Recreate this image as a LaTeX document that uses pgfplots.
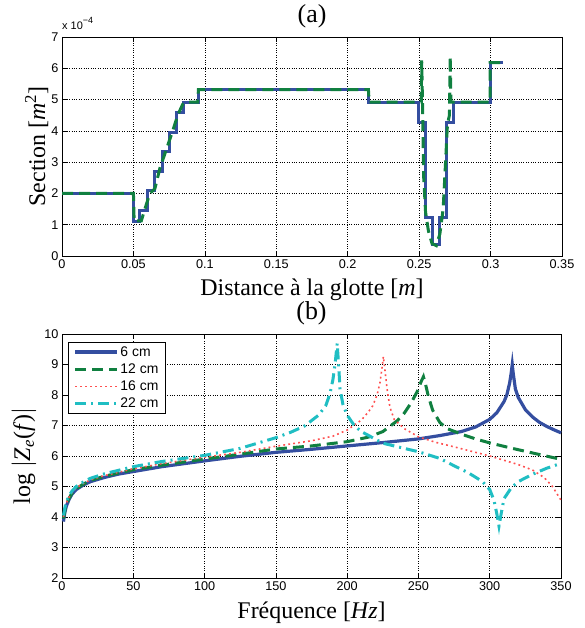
\documentclass[border=0pt]{standalone}
\usepackage{fontspec}
\setmainfont{Liberation Serif}
\setsansfont{Liberation Sans}
\usepackage{pgfplots}
\pgfplotsset{compat=1.18}
\definecolor{mblue}{RGB}{52,78,160}
\definecolor{mgreen}{RGB}{16,128,64}
\definecolor{mred}{RGB}{255,80,80}
\definecolor{mcyan}{RGB}{32,190,195}
\pgfplotsset{
  mystyle/.style={
    scale only axis,
    anchor=south west,
    clip=false,
    axis line style={black, line width=0.6bp},
    tick align=inside,
    tick pos=both,
    major tick length=5bp,
    tick style={black, line width=0.5bp},
    grid=major,
    major grid style={black, dotted, line width=0.5bp},
    ticklabel style={font=\fontsize{12.7}{14}\sffamily},
    /pgf/number format/assume math mode=true,
    label style={font=\fontsize{24}{28}\selectfont},
    xlabel style={at={(axis description cs:0.5,0)}, anchor=base, yshift=-40bp},
  }
}
\begin{document}
\begin{tikzpicture}
\useasboundingbox (0,0) rectangle (585bp,628bp);
\begin{axis}[mystyle, at={(62bp,372bp)}, width=500bp, height=219bp,
  xmin=0, xmax=0.35, ymin=0, ymax=7,
  xtick={0,0.05,0.1,0.15,0.2,0.25,0.3,0.35},
  xticklabels={0,0.05,0.1,0.15,0.2,0.25,0.3,0.35},
  ytick={0,1,2,3,4,5,6,7},
  xlabel={Distance à la glotte [\textit{m}]},
  ylabel={Section [\textit{m}\textsuperscript{2}]},
  ylabel style={at={(axis description cs:-0.034,0.5)}, anchor=base}]
\addplot[mblue, line width=3bp] coordinates {
(0,2.0)(0.05,2.0)(0.05,1.1)(0.0545,1.1)(0.0545,1.45)(0.06,1.45)(0.06,2.08)(0.065,2.08)(0.065,2.7)(0.0702,2.7)(0.0702,3.33)(0.0752,3.33)(0.0752,3.95)(0.08,3.95)(0.08,4.6)(0.085,4.6)(0.085,4.92)(0.0955,4.92)(0.0955,5.32)(0.2145,5.32)(0.2145,4.92)(0.2495,4.92)(0.2495,4.28)(0.2545,4.28)(0.2545,1.22)(0.259,1.22)(0.259,0.38)(0.2642,0.38)(0.2642,1.22)(0.2693,1.22)(0.2693,4.28)(0.274,4.28)(0.274,4.92)(0.2997,4.92)(0.2997,6.18)(0.309,6.18)
};
\addplot[mgreen, line width=3bp, dash pattern=on 11bp off 6bp] coordinates {
(0,2.0)(0.05,2.0)(0.0505,1.12)(0.0555,1.12)(0.058,1.5)(0.0615,2.0)(0.065,2.15)(0.0685,2.8)(0.073,3.4)(0.0775,4.0)(0.081,4.5)(0.0845,4.85)(0.087,4.92)(0.095,4.92)(0.0955,5.32)(0.2145,5.32)(0.215,4.92)(0.2515,4.92)(0.2518,6.25)(0.2525,4.5)(0.2532,2.5)(0.2545,1.4)(0.2565,0.8)(0.259,0.4)(0.262,0.33)(0.2645,0.7)(0.2668,1.5)(0.2685,3.0)(0.2698,4.2)(0.2712,4.5)(0.2718,6.37)(0.2722,4.92)(0.2997,4.92)(0.2997,6.18)(0.309,6.18)
};
\node[anchor=base west, inner sep=0pt, font=\fontsize{11}{12}\sffamily] at (rel axis cs:0,1) [yshift=7bp] {x 10\raisebox{6.5bp}{\fontsize{9}{10}\selectfont −4}};
\node[anchor=base, inner sep=0pt, font=\fontsize{26}{30}\selectfont] at (rel axis cs:0.5,1) [yshift=14.5bp] {(a)};
\end{axis}
\begin{axis}[mystyle, at={(62bp,50bp)}, width=499bp, height=244bp,
  xmin=0, xmax=350, ymin=2, ymax=10,
  xtick={0,50,100,150,200,250,300,350},
  ytick={2,3,4,5,6,7,8,9,10},
  xlabel={Fréquence [\textit{Hz}]},
  ylabel={log $|$\textit{Z}\textsubscript{\textit{e}}(\textit{f})$|$},
  ylabel style={at={(axis description cs:-0.064,0.5)}, anchor=base},
  legend style={at={(axis description cs:0.013,0.967)}, anchor=north west, draw=black, line width=0.6bp,
    font=\fontsize{14}{15}\sffamily, inner xsep=5bp, inner ysep=2.5bp, row sep=3bp,
    nodes={inner sep=1.5bp}},
  legend cell align=left,
  legend image code/.code={\draw[#1] (0bp,0bp) -- (42bp,0bp);}]
\addplot[mblue, line width=3.2bp] coordinates {
(1,3.85)(2,4.15)(3,4.35)(5,4.58)(7,4.75)(10,4.9)(15,5.05)(20,5.16)(30,5.3)(40,5.41)(50,5.49)(70,5.65)(100,5.84)(125,5.99)(150,6.12)(175,6.22)(200,6.33)(225,6.44)(250,6.56)(265,6.67)(280,6.8)(290,6.95)(300,7.2)(305,7.42)(310,7.78)(312,8.0)(314,8.4)(315,8.7)(315.8,9.0)(316.5,8.7)(318,8.2)(320,7.92)(325,7.52)(330,7.28)(335,7.1)(340,6.97)(345,6.86)(350,6.76)
};
\addlegendentry{6 cm}
\addplot[mgreen, line width=3bp, dash pattern=on 11bp off 6bp] coordinates {
(1,3.95)(2,4.2)(3,4.4)(5,4.62)(7,4.78)(10,4.93)(15,5.08)(20,5.2)(30,5.34)(50,5.55)(70,5.7)(100,5.9)(125,6.06)(150,6.23)(175,6.33)(200,6.47)(215,6.62)(225,6.8)(235,7.15)(240,7.4)(245,7.75)(249,8.1)(252,8.45)(253.5,8.6)(255,8.35)(257,7.95)(260,7.5)(265,7.1)(270,6.9)(280,6.72)(290,6.56)(300,6.43)(315,6.26)(330,6.1)(350,5.89)
};
\addlegendentry{12 cm}
\addplot[mred, line width=1.6bp, dash pattern=on 1.8bp off 3.2bp] coordinates {
(1,4.0)(2,4.25)(3,4.45)(5,4.65)(7,4.8)(10,4.95)(15,5.1)(20,5.22)(30,5.36)(50,5.58)(70,5.75)(100,5.96)(125,6.12)(150,6.32)(175,6.5)(190,6.65)(200,6.85)(210,7.18)(215,7.45)(218,7.65)(221,8.0)(223,8.4)(224.5,8.9)(225.4,9.26)(226.3,8.9)(228,8.2)(230,7.6)(233,7.2)(240,6.9)(250,6.63)(262,6.45)(275,6.3)(290,6.12)(300,6.0)(310,5.86)(320,5.72)(330,5.54)(338,5.3)(344,5.0)(348,4.7)(350,4.55)
};
\addlegendentry{16 cm}
\addplot[mcyan, line width=3bp, dash pattern=on 11bp off 5bp on 2bp off 5bp] coordinates {
(1,4.05)(2,4.3)(3,4.5)(5,4.7)(7,4.85)(10,5.0)(15,5.15)(20,5.27)(30,5.42)(50,5.65)(70,5.82)(100,6.02)(125,6.25)(150,6.6)(160,6.77)(170,6.98)(180,7.34)(185,7.65)(188,8.05)(190,8.5)(191.5,9.0)(193,9.69)(194,9.0)(195,8.2)(197,7.7)(200,7.34)(205,7.0)(210,6.8)(225,6.42)(240,6.25)(250,6.14)(265,5.92)(275,5.68)(285,5.45)(295,5.16)(300,4.9)(303,4.55)(305,4.1)(306.5,3.7)(308,4.1)(310,4.6)(315,4.95)(320,5.16)(330,5.4)(340,5.6)(350,5.76)
};
\addlegendentry{22 cm}
\node[anchor=base, inner sep=0pt, font=\fontsize{26}{30}\selectfont] at (rel axis cs:0.5,1) [yshift=14.5bp] {(b)};
\end{axis}
\end{tikzpicture}
\end{document}
